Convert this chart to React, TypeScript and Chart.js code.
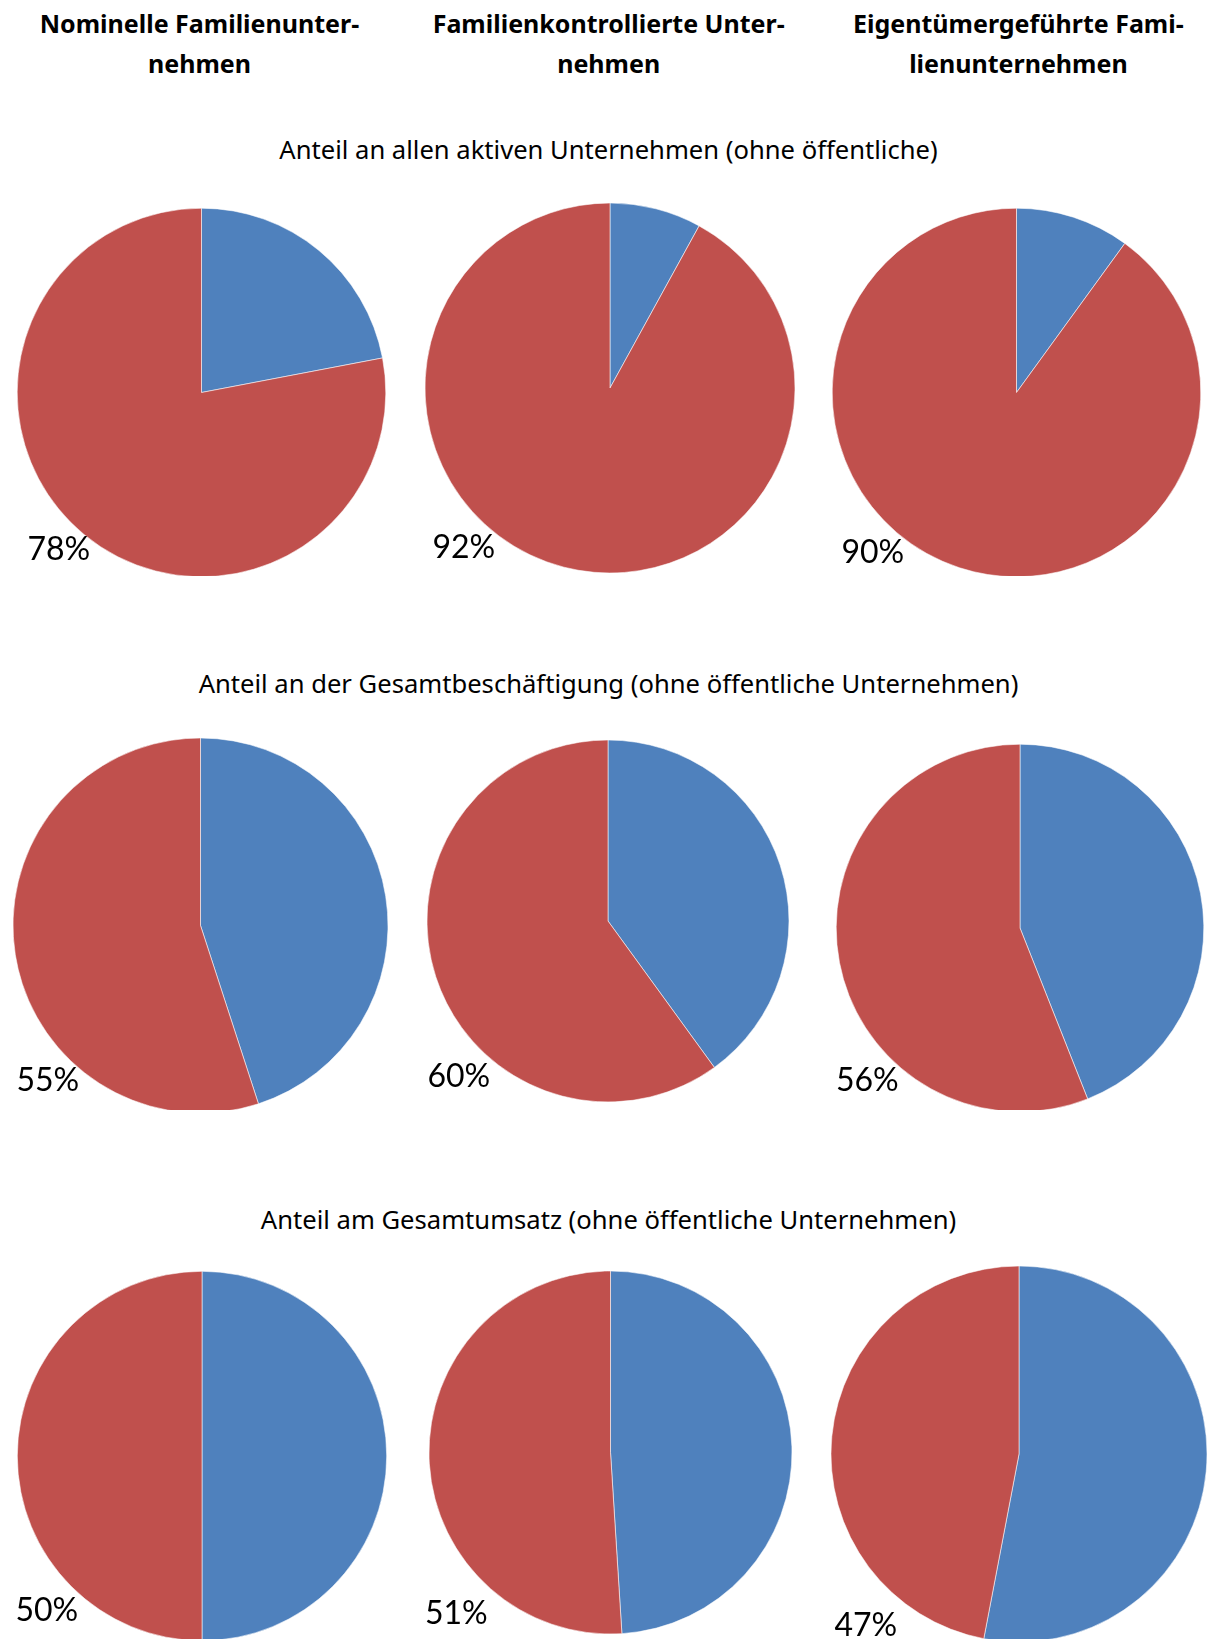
import React, { useEffect, useRef } from "react";
import { Chart, registerables } from "chart.js";

Chart.register(...registerables);

// ---------- data ----------
const columnTitleLine1 = ["Nominelle Familienunter-", "Familienkontrollierte Unter-", "Eigentümergeführte Fami-"];
const columnTitleLine2 = ["nehmen", "nehmen", "lienunternehmen"];
const rowTitles = [
  "Anteil an allen aktiven Unternehmen (ohne öffentliche)",
  "Anteil an der Gesamtbeschäftigung (ohne öffentliche Unternehmen)",
  "Anteil am Gesamtumsatz (ohne öffentliche Unternehmen)",
];
const sliceLabels = ["Sonstige Unternehmen", "Familienunternehmen"];

// family share (red) per row: [Unternehmen, Beschäftigung, Umsatz]
const familyNominell = [78, 55, 50];
const familyKontrolliert = [92, 60, 51];
const familyEigentuemer = [90, 56, 47];
// remaining share (blue)
const restNominell = [22, 45, 50];
const restKontrolliert = [8, 40, 49];
const restEigentuemer = [10, 44, 53];

const familyByColumn = [familyNominell, familyKontrolliert, familyEigentuemer];
const restByColumn = [restNominell, restKontrolliert, restEigentuemer];

// ---------- layout / style ----------
const BLUE = "#4F81BD";
const RED = "#C0504D";
const W = 1209;
const H = 1639;

const colTitleX = [199.5, 608.7, 1018.4];
const colTitleBaseline = [33, 72.7];
const rowTitleX = 608.5;
const rowTitleBaseline = [159.3, 693.3, 1229.3];

const rowBandTop = [190, 720, 1250];
const rowClipBottom = [576, 1110, 1639];

// [row][col] = [cx, cy, r]
const pieGeom = [
  [[201.7, 392.6, 184.3], [610, 387.5, 185], [1016.7, 392.6, 184.3]],
  [[200.8, 925.2, 187.5], [607.8, 920.8, 181], [1019.5, 927.8, 183.8]],
  [[201.8, 1455.7, 184.7], [610.3, 1452.5, 181.5], [1018.7, 1454, 188]],
];
// [row][col] = [left, baseline]
const labelPos = [
  [[27.5, 560], [432.5, 558.3], [841.5, 563.3]],
  [[16.5, 1091], [427.5, 1087.7], [836, 1091]],
  [[15.5, 1621.7], [425, 1624.3], [834.5, 1636.3]],
];

const HEADER_FONT = "'Noto Sans', sans-serif";
const LABEL_FONT = "Lato, 'Noto Sans', sans-serif";

function PieCanvas({ values, cx, cy, r, bandTop }: { values: number[]; cx: number; cy: number; r: number; bandTop: number }) {
  const ref = useRef<HTMLCanvasElement>(null);
  const size = Math.ceil(2 * r + 8);
  const left = Math.round(cx - size / 2);
  const top = Math.round(cy - size / 2) - bandTop;
  useEffect(() => {
    if (!ref.current) return;
    const chart = new Chart(ref.current, {
      type: "pie",
      data: {
        labels: sliceLabels,
        datasets: [
          {
            data: values,
            backgroundColor: [BLUE, RED],
            borderColor: "rgba(255,255,255,0.55)",
            borderWidth: 1,
          },
        ],
      },
      options: {
        responsive: false,
        animation: false,
        devicePixelRatio: 1,
        radius: r,
        events: [],
        layout: { padding: 0 },
        plugins: { legend: { display: false }, tooltip: { enabled: false }, title: { display: false } },
      },
    });
    return () => chart.destroy();
  }, []);
  return (
    <canvas
      ref={ref}
      width={size}
      height={size}
      style={{ position: "absolute", left, top, width: size, height: size }}
    />
  );
}

function TextAt({ text, x, baseline, size, bold, font, align }: { text: string; x: number; baseline: number; size: number; bold?: boolean; font: string; align: "center" | "left" }) {
  const top = baseline - 0.888 * size;
  const style: React.CSSProperties = {
    position: "absolute",
    top,
    fontFamily: font,
    fontSize: size,
    lineHeight: `${size}px`,
    fontWeight: bold ? 700 : 400,
    color: "#000",
    whiteSpace: "nowrap",
  };
  if (align === "center") {
    style.left = x - 500;
    style.width = 1000;
    style.textAlign = "center";
  } else {
    style.left = x;
  }
  return <div style={style}>{text}</div>;
}

export default function App() {
  useEffect(() => {
    document.body.style.margin = "0";
    document.body.style.overflow = "hidden";
  }, []);
  return (
    <div style={{ position: "absolute", left: 0, top: 0, width: W, height: H, overflow: "hidden", background: "#fff" }}>
      {columnTitleLine1.map((t, i) => (
        <TextAt key={"h1" + i} text={t} x={colTitleX[i]} baseline={colTitleBaseline[0]} size={25} bold font={HEADER_FONT} align="center" />
      ))}
      {columnTitleLine2.map((t, i) => (
        <TextAt key={"h2" + i} text={t} x={colTitleX[i]} baseline={colTitleBaseline[1]} size={25} bold font={HEADER_FONT} align="center" />
      ))}
      {rowTitles.map((t, i) => (
        <TextAt key={"r" + i} text={t} x={rowTitleX} baseline={rowTitleBaseline[i]} size={25.6} font={HEADER_FONT} align="center" />
      ))}
      {rowTitles.map((_, row) => (
        <div
          key={"band" + row}
          style={{
            position: "absolute",
            left: 0,
            top: rowBandTop[row],
            width: W,
            height: rowClipBottom[row] - rowBandTop[row],
            overflow: "hidden",
          }}
        >
          {familyByColumn.map((fam, col) => {
            const [cx, cy, r] = pieGeom[row][col];
            return (
              <PieCanvas
                key={"p" + row + "-" + col}
                values={[restByColumn[col][row], fam[row]]}
                cx={cx}
                cy={cy}
                r={r}
                bandTop={rowBandTop[row]}
              />
            );
          })}
        </div>
      ))}
      {rowTitles.map((_, row) =>
        familyByColumn.map((fam, col) => (
          <TextAt
            key={"l" + row + "-" + col}
            text={`${fam[row]}%`}
            x={labelPos[row][col][0]}
            baseline={labelPos[row][col][1]}
            size={32}
            font={LABEL_FONT}
            align="left"
          />
        ))
      )}
    </div>
  );
}
